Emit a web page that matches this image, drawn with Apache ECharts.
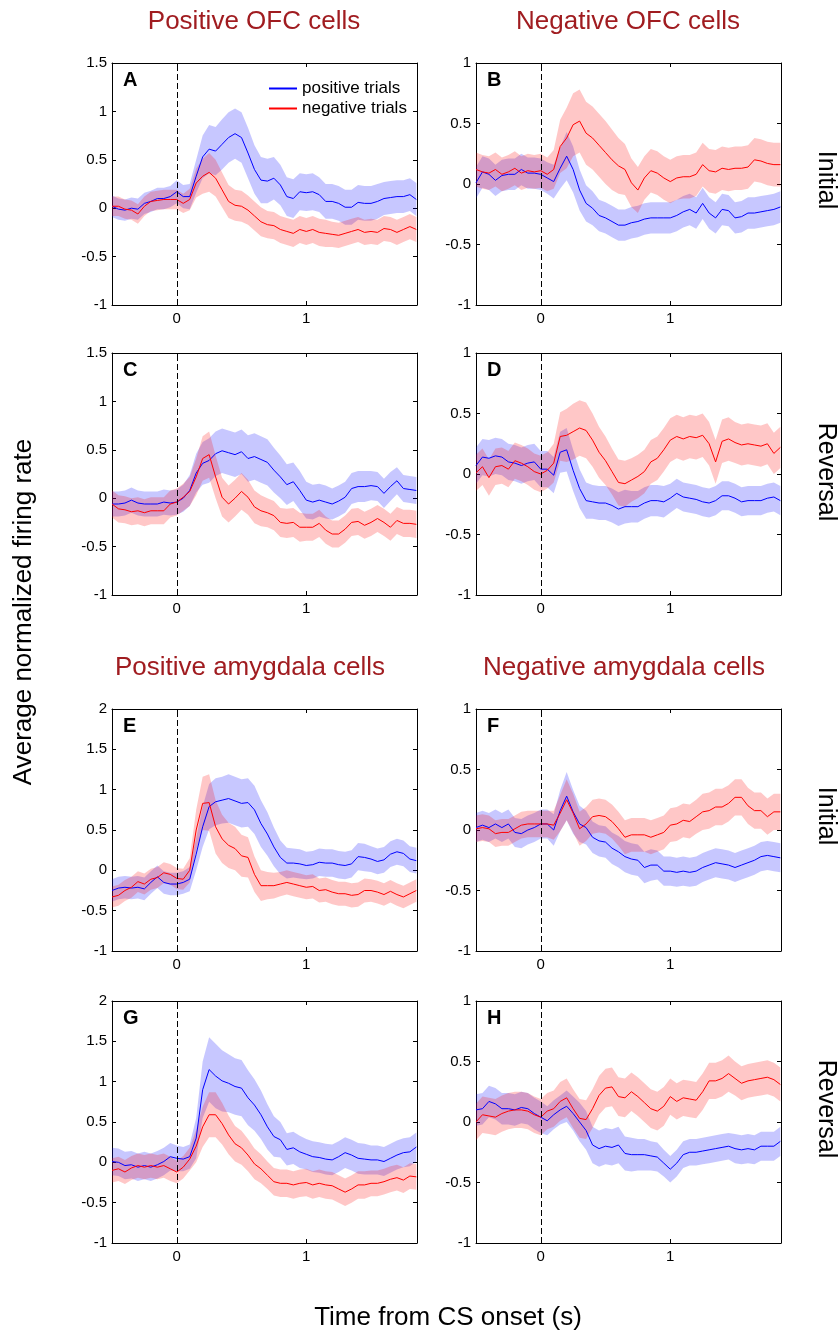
<!DOCTYPE html>
<html>
<head>
<meta charset="utf-8">
<script src="https://cdn.jsdelivr.net/npm/echarts@6/dist/echarts.min.js"></script>
<style>
html,body{margin:0;padding:0;background:#fff;}
#chart{width:840px;height:1337px;}
</style>
</head>
<body>
<div id="chart"></div>
<script>
// ---- time axis (s from CS onset) ----
const t = [-0.5,-0.45,-0.4,-0.35,-0.3,-0.25,-0.2,-0.15,-0.1,-0.05,0,0.05,0.1,0.15,0.2,0.25,0.3,0.35,0.4,0.45,0.5,0.55,0.6,0.65,0.7,0.75,0.8,0.85,0.9,0.95,1,1.05,1.1,1.15,1.2,1.25,1.3,1.35,1.4,1.45,1.5,1.55,1.6,1.65,1.7,1.75,1.8,1.85];
const xTicks = [0, 1];

// ---- A: Positive OFC cells, Initial ----
const A_pos = [0.02,-0.01,-0.02,0.0,-0.01,0.05,0.07,0.10,0.10,0.12, 0.17,0.12,0.12,0.33,0.53,0.61,0.59,0.66,0.73,0.77, 0.73,0.57,0.40,0.29,0.28,0.31,0.24,0.12,0.10,0.17, 0.16,0.17,0.14,0.07,0.07,0.05,0.01,0.01,0.06,0.05, 0.05,0.07,0.10,0.11,0.12,0.12,0.14,0.09];
const A_pos_sem = [0.11,0.11,0.11,0.11,0.11,0.11,0.11,0.11,0.11,0.11, 0.12,0.12,0.13,0.17,0.22,0.25,0.25,0.26,0.26,0.26, 0.26,0.26,0.25,0.24,0.23,0.22,0.21,0.2,0.2,0.19, 0.19,0.19,0.18,0.18,0.18,0.18,0.18,0.18,0.18,0.18, 0.18,0.18,0.17,0.17,0.17,0.17,0.17,0.17];
const A_neg = [0.02,0.02,-0.01,-0.02,-0.06,0.02,0.07,0.08,0.09,0.09, 0.09,0.05,0.09,0.26,0.33,0.37,0.31,0.19,0.07,0.03, 0.02,-0.02,-0.08,-0.14,-0.17,-0.18,-0.22,-0.24,-0.26,-0.22, -0.24,-0.22,-0.25,-0.26,-0.27,-0.28,-0.26,-0.24,-0.22,-0.25, -0.24,-0.25,-0.21,-0.22,-0.25,-0.22,-0.19,-0.22];
const A_neg_sem = [0.1,0.1,0.1,0.1,0.1,0.1,0.1,0.1,0.1,0.1, 0.1,0.1,0.11,0.15,0.18,0.2,0.19,0.18,0.17,0.16, 0.16,0.15,0.15,0.15,0.14,0.14,0.14,0.14,0.14,0.14, 0.14,0.14,0.14,0.14,0.13,0.13,0.13,0.13,0.13,0.13, 0.13,0.13,0.13,0.13,0.13,0.13,0.13,0.13];

// ---- B: Negative OFC cells, Initial ----
const B_pos = [0.01,0.10,0.08,0.03,0.07,0.08,0.08,0.12,0.09,0.09, 0.08,0.05,0.02,0.13,0.23,0.12,-0.05,-0.16,-0.20,-0.26, -0.28,-0.31,-0.34,-0.34,-0.32,-0.31,-0.29,-0.28,-0.28,-0.28, -0.28,-0.26,-0.23,-0.21,-0.24,-0.16,-0.24,-0.28,-0.21,-0.22, -0.28,-0.27,-0.24,-0.24,-0.23,-0.22,-0.21,-0.19];
const B_pos_sem = [0.13,0.13,0.13,0.13,0.13,0.13,0.13,0.13,0.13,0.13, 0.13,0.13,0.14,0.17,0.2,0.19,0.17,0.15,0.14,0.13, 0.13,0.13,0.13,0.13,0.13,0.13,0.13,0.13,0.13,0.13, 0.13,0.13,0.13,0.13,0.13,0.13,0.13,0.13,0.13,0.13, 0.13,0.13,0.13,0.13,0.13,0.13,0.13,0.13];
const B_neg = [0.12,0.10,0.09,0.12,0.08,0.10,0.13,0.09,0.11,0.10, 0.11,0.08,0.12,0.31,0.38,0.49,0.52,0.42,0.38,0.32, 0.26,0.20,0.15,0.12,0.01,-0.05,0.05,0.11,0.09,0.05, 0.02,0.05,0.06,0.06,0.08,0.16,0.11,0.10,0.13,0.12, 0.13,0.13,0.14,0.20,0.19,0.17,0.16,0.16];
const B_neg_sem = [0.14,0.14,0.14,0.14,0.14,0.14,0.14,0.14,0.14,0.14, 0.14,0.14,0.16,0.22,0.25,0.26,0.26,0.26,0.26,0.26, 0.26,0.25,0.23,0.21,0.2,0.19,0.18,0.18,0.18,0.18, 0.18,0.18,0.18,0.18,0.18,0.18,0.18,0.18,0.18,0.18, 0.18,0.18,0.18,0.18,0.18,0.18,0.18,0.18];

// ---- C: Positive OFC cells, Reversal ----
const C_pos = [-0.06,-0.06,-0.05,-0.02,-0.05,-0.06,-0.06,-0.06,-0.04,-0.05, -0.04,0.0,0.08,0.26,0.36,0.39,0.46,0.49,0.47,0.45, 0.48,0.41,0.43,0.40,0.37,0.29,0.22,0.14,0.17,0.08, -0.02,-0.04,-0.02,-0.04,-0.06,-0.03,0.01,0.10,0.12,0.12, 0.13,0.12,0.05,0.12,0.18,0.10,0.09,0.08];
const C_pos_sem = [0.13,0.13,0.13,0.13,0.13,0.13,0.13,0.13,0.13,0.13, 0.13,0.14,0.16,0.2,0.22,0.23,0.23,0.23,0.23,0.23, 0.23,0.24,0.24,0.24,0.24,0.23,0.22,0.21,0.2,0.2, 0.19,0.18,0.17,0.17,0.16,0.16,0.16,0.16,0.16,0.16, 0.15,0.15,0.15,0.15,0.14,0.14,0.14,0.14];
const C_neg = [-0.06,-0.11,-0.12,-0.14,-0.13,-0.15,-0.13,-0.13,-0.13,-0.06, -0.04,0.01,0.07,0.22,0.41,0.45,0.22,0.01,-0.06,0.0, 0.07,0.01,-0.09,-0.13,-0.15,-0.18,-0.25,-0.26,-0.25,-0.30, -0.30,-0.30,-0.26,-0.33,-0.37,-0.37,-0.32,-0.25,-0.24,-0.28, -0.25,-0.21,-0.25,-0.30,-0.23,-0.26,-0.26,-0.27];
const C_neg_sem = [0.14,0.14,0.14,0.14,0.14,0.14,0.14,0.14,0.14,0.14, 0.14,0.14,0.15,0.19,0.23,0.24,0.22,0.2,0.19,0.19, 0.19,0.18,0.17,0.16,0.15,0.15,0.15,0.15,0.15,0.15, 0.14,0.14,0.14,0.14,0.14,0.14,0.14,0.14,0.14,0.14, 0.14,0.14,0.14,0.14,0.14,0.14,0.14,0.14];

// ---- D: Negative OFC cells, Reversal ----
const D_pos = [0.07,0.14,0.13,0.15,0.14,0.10,0.09,0.07,0.09,0.10, 0.04,0.04,-0.01,0.18,0.20,0.03,-0.12,-0.22,-0.23,-0.24, -0.24,-0.26,-0.29,-0.27,-0.27,-0.27,-0.24,-0.22,-0.22,-0.23, -0.20,-0.16,-0.19,-0.20,-0.21,-0.23,-0.24,-0.22,-0.18,-0.18, -0.20,-0.23,-0.22,-0.22,-0.22,-0.20,-0.19,-0.22];
const D_pos_sem = [0.15,0.15,0.15,0.15,0.15,0.15,0.15,0.15,0.15,0.15, 0.15,0.15,0.15,0.17,0.18,0.17,0.16,0.15,0.14,0.14, 0.14,0.14,0.14,0.14,0.13,0.13,0.13,0.13,0.13,0.13, 0.12,0.12,0.12,0.12,0.12,0.12,0.12,0.12,0.12,0.12, 0.12,0.12,0.12,0.12,0.12,0.12,0.12,0.12];
const D_neg = [0.01,0.06,-0.03,0.06,0.07,0.04,0.11,0.09,0.06,0.02, 0.00,0.03,0.09,0.31,0.32,0.35,0.38,0.36,0.28,0.18, 0.11,0.02,-0.07,-0.08,-0.05,-0.02,0.02,0.10,0.13,0.20, 0.28,0.31,0.29,0.31,0.30,0.32,0.25,0.10,0.27,0.29, 0.26,0.24,0.25,0.24,0.23,0.25,0.17,0.22];
const D_neg_sem = [0.15,0.15,0.15,0.15,0.15,0.15,0.15,0.15,0.15,0.15, 0.15,0.15,0.16,0.2,0.22,0.23,0.23,0.23,0.22,0.21, 0.2,0.19,0.19,0.19,0.18,0.18,0.18,0.18,0.18,0.18, 0.18,0.18,0.18,0.18,0.18,0.18,0.18,0.18,0.18,0.18, 0.17,0.17,0.17,0.17,0.17,0.17,0.17,0.17];

// ---- E: Positive amygdala cells, Initial ----
const E_pos = [-0.25,-0.22,-0.21,-0.22,-0.21,-0.23,-0.15,-0.08,-0.15,-0.17, -0.17,-0.15,-0.11,0.20,0.54,0.79,0.85,0.87,0.89,0.86, 0.83,0.84,0.75,0.58,0.45,0.29,0.16,0.09,0.09,0.08, 0.06,0.07,0.10,0.09,0.09,0.07,0.06,0.08,0.17,0.16, 0.14,0.11,0.13,0.20,0.23,0.21,0.14,0.12];
const E_pos_sem = [0.14,0.14,0.14,0.14,0.14,0.14,0.14,0.14,0.14,0.14, 0.14,0.14,0.15,0.2,0.25,0.28,0.29,0.29,0.3,0.3, 0.3,0.3,0.3,0.29,0.27,0.24,0.21,0.19,0.18,0.18, 0.17,0.17,0.17,0.17,0.17,0.17,0.17,0.17,0.17,0.17, 0.16,0.16,0.16,0.16,0.16,0.16,0.16,0.16];
const E_neg = [-0.33,-0.31,-0.25,-0.21,-0.14,-0.17,-0.11,-0.09,-0.03,-0.05, -0.10,-0.11,0.0,0.50,0.83,0.84,0.54,0.39,0.31,0.27, 0.18,0.16,-0.05,-0.19,-0.19,-0.19,-0.17,-0.15,-0.17,-0.19, -0.21,-0.20,-0.25,-0.24,-0.27,-0.29,-0.29,-0.31,-0.30,-0.25, -0.25,-0.27,-0.30,-0.26,-0.30,-0.33,-0.29,-0.25];
const E_neg_sem = [0.13,0.13,0.13,0.13,0.13,0.13,0.13,0.13,0.13,0.13, 0.13,0.13,0.15,0.25,0.33,0.35,0.33,0.3,0.28,0.27, 0.26,0.25,0.22,0.19,0.17,0.16,0.15,0.15,0.15,0.15, 0.15,0.15,0.15,0.15,0.15,0.15,0.15,0.15,0.15,0.15, 0.14,0.14,0.14,0.14,0.14,0.14,0.14,0.14];

// ---- F: Negative amygdala cells, Initial ----
const F_pos = [0.02,0.04,0.02,0.05,0.02,0.05,-0.02,-0.03,0.0,0.02, 0.05,0.05,0.0,0.16,0.28,0.15,0.05,0.02,-0.06,-0.09, -0.10,-0.15,-0.18,-0.22,-0.24,-0.25,-0.31,-0.29,-0.29,-0.34, -0.34,-0.35,-0.34,-0.35,-0.34,-0.31,-0.29,-0.27,-0.28,-0.29, -0.31,-0.29,-0.27,-0.25,-0.22,-0.21,-0.22,-0.23];
const F_pos_sem = [0.12,0.12,0.12,0.12,0.12,0.12,0.12,0.12,0.12,0.12, 0.12,0.12,0.13,0.17,0.2,0.18,0.15,0.14,0.13,0.13, 0.13,0.13,0.13,0.13,0.13,0.13,0.13,0.13,0.12,0.12, 0.12,0.12,0.12,0.12,0.12,0.12,0.12,0.12,0.12,0.12, 0.12,0.12,0.12,0.12,0.12,0.12,0.12,0.12];
const F_neg = [0.01,0.02,0.01,-0.03,-0.02,-0.02,0.01,0.04,0.05,0.05, 0.05,0.05,0.04,0.14,0.25,0.14,0.01,0.05,0.11,0.12, 0.11,0.07,0.01,-0.06,-0.04,-0.04,-0.04,-0.06,-0.04,-0.02, 0.04,0.05,0.08,0.07,0.11,0.15,0.16,0.19,0.19,0.22, 0.27,0.27,0.20,0.16,0.16,0.11,0.15,0.15];
const F_neg_sem = [0.11,0.11,0.11,0.11,0.11,0.11,0.11,0.11,0.11,0.11, 0.11,0.11,0.12,0.15,0.17,0.16,0.14,0.14,0.14,0.14, 0.14,0.14,0.14,0.14,0.14,0.14,0.14,0.14,0.14,0.14, 0.14,0.14,0.14,0.14,0.14,0.15,0.15,0.15,0.15,0.15, 0.15,0.15,0.15,0.15,0.15,0.15,0.15,0.15];

// ---- G: Positive amygdala cells, Reversal ----
const G_pos = [0.01,0.0,-0.04,-0.03,-0.06,-0.04,-0.06,-0.03,0.01,0.07, 0.05,0.04,0.07,0.30,0.90,1.15,1.07,1.01,0.98,0.94, 0.92,0.80,0.71,0.59,0.44,0.32,0.28,0.16,0.18,0.13, 0.10,0.07,0.06,0.04,0.03,0.07,0.12,0.09,0.05,0.04, 0.03,0.03,0.01,0.05,0.09,0.12,0.13,0.19];
const G_pos_sem = [0.17,0.17,0.17,0.17,0.17,0.17,0.17,0.17,0.17,0.17, 0.16,0.15,0.15,0.25,0.35,0.4,0.4,0.38,0.36,0.35, 0.35,0.34,0.32,0.3,0.28,0.25,0.22,0.2,0.2,0.2, 0.19,0.19,0.19,0.19,0.19,0.19,0.19,0.19,0.19,0.19, 0.18,0.18,0.18,0.18,0.18,0.18,0.18,0.18];
const G_neg = [-0.10,-0.08,-0.12,-0.07,-0.04,-0.06,-0.04,-0.06,-0.04,-0.08, -0.12,-0.06,0.04,0.20,0.44,0.59,0.59,0.48,0.34,0.23, 0.18,0.09,-0.02,-0.08,-0.16,-0.24,-0.26,-0.26,-0.28,-0.26, -0.25,-0.28,-0.26,-0.28,-0.29,-0.33,-0.37,-0.33,-0.28,-0.28, -0.26,-0.26,-0.24,-0.21,-0.19,-0.22,-0.17,-0.18];
const G_neg_sem = [0.15,0.15,0.15,0.15,0.15,0.15,0.15,0.15,0.15,0.15, 0.14,0.14,0.14,0.2,0.25,0.28,0.28,0.26,0.24,0.22, 0.21,0.2,0.19,0.18,0.17,0.17,0.17,0.17,0.17,0.17, 0.17,0.17,0.17,0.17,0.17,0.17,0.17,0.17,0.17,0.17, 0.16,0.16,0.16,0.16,0.16,0.16,0.16,0.16];

// ---- H: Negative amygdala cells, Reversal ----
const H_pos = [0.10,0.11,0.17,0.15,0.11,0.11,0.10,0.12,0.11,0.07, 0.04,0.01,0.06,0.10,0.13,0.07,0.0,-0.07,-0.19,-0.22, -0.20,-0.21,-0.19,-0.26,-0.27,-0.27,-0.27,-0.28,-0.29,-0.34, -0.39,-0.34,-0.27,-0.25,-0.25,-0.24,-0.23,-0.22,-0.21,-0.20, -0.22,-0.23,-0.22,-0.23,-0.20,-0.20,-0.20,-0.16];
const H_pos_sem = [0.13,0.13,0.13,0.13,0.13,0.13,0.13,0.13,0.13,0.13, 0.13,0.12,0.12,0.12,0.13,0.14,0.16,0.16,0.15,0.15, 0.15,0.15,0.15,0.14,0.14,0.13,0.13,0.12,0.12,0.11, 0.11,0.11,0.11,0.11,0.11,0.11,0.11,0.11,0.11,0.11, 0.12,0.12,0.12,0.12,0.12,0.12,0.12,0.12];
const H_neg = [0.00,0.06,0.05,0.04,0.07,0.09,0.10,0.10,0.09,0.06, 0.04,0.09,0.11,0.17,0.20,0.11,0.03,0.02,0.11,0.22, 0.28,0.29,0.21,0.20,0.25,0.21,0.16,0.11,0.09,0.13, 0.21,0.17,0.20,0.19,0.18,0.25,0.34,0.34,0.36,0.40, 0.36,0.32,0.34,0.35,0.36,0.37,0.35,0.31];
const H_neg_sem = [0.15,0.15,0.15,0.15,0.15,0.15,0.15,0.15,0.15,0.15, 0.15,0.15,0.15,0.16,0.16,0.16,0.16,0.16,0.16,0.16, 0.16,0.16,0.16,0.16,0.16,0.16,0.16,0.16,0.16,0.16, 0.15,0.15,0.15,0.15,0.15,0.15,0.15,0.15,0.15,0.15, 0.14,0.14,0.14,0.14,0.14,0.14,0.14,0.14];

// ---- texts ----
const columnTitlesTop = ['Positive OFC cells', 'Negative OFC cells'];
const columnTitlesBottom = ['Positive amygdala cells', 'Negative amygdala cells'];
const rowLabels = ['Initial', 'Reversal', 'Initial', 'Reversal'];
const legendNames = ['positive trials', 'negative trials'];
const yTitle = 'Average normalized firing rate';
const xTitle = 'Time from CS onset (s)';

const panels = [
  {id:'A', row:0, col:0, ymin:-1, ymax:1.5, pos:A_pos, posSem:A_pos_sem, neg:A_neg, negSem:A_neg_sem},
  {id:'B', row:0, col:1, ymin:-1, ymax:1,   pos:B_pos, posSem:B_pos_sem, neg:B_neg, negSem:B_neg_sem},
  {id:'C', row:1, col:0, ymin:-1, ymax:1.5, pos:C_pos, posSem:C_pos_sem, neg:C_neg, negSem:C_neg_sem},
  {id:'D', row:1, col:1, ymin:-1, ymax:1,   pos:D_pos, posSem:D_pos_sem, neg:D_neg, negSem:D_neg_sem},
  {id:'E', row:2, col:0, ymin:-1, ymax:2,   pos:E_pos, posSem:E_pos_sem, neg:E_neg, negSem:E_neg_sem},
  {id:'F', row:2, col:1, ymin:-1, ymax:1,   pos:F_pos, posSem:F_pos_sem, neg:F_neg, negSem:F_neg_sem},
  {id:'G', row:3, col:0, ymin:-1, ymax:2,   pos:G_pos, posSem:G_pos_sem, neg:G_neg, negSem:G_neg_sem},
  {id:'H', row:3, col:1, ymin:-1, ymax:1,   pos:H_pos, posSem:H_pos_sem, neg:H_neg, negSem:H_neg_sem}
];

// ---- layout & style ----
const FONT = "'Liberation Sans', Arial, Helvetica, sans-serif";
const XMIN = -0.5, XMAX = 1.855;
const colLeft = [112, 476];
const rowTop = [63, 353, 709, 1001];
const GW = 305, GH = 242;
const rowLabelY = [180, 472, 816, 1109];
const BLUE = '#0000ff', RED = '#ff0000';
const BLUE_BAND = 'rgba(0,0,255,0.22)', RED_BAND = 'rgba(255,0,0,0.22)';
const TITLE_RED = '#a01c20';

const grids = [], xAxes = [], yAxes = [], series = [], graphics = [];

function bandSeries(gi, mean, sem, color) {
  return {
    type: 'custom', xAxisIndex: gi * 2, yAxisIndex: gi * 2, silent: true, clip: true, z: 1,
    data: t.map((x, i) => [x, mean[i] - sem[i], mean[i] + sem[i]]),
    encode: { x: 0, y: [1, 2] },
    renderItem: function (params, api) {
      if (params.dataIndex !== 0) return null;
      const pts = [];
      for (let i = 0; i < t.length; i++) pts.push(api.coord([t[i], mean[i] + sem[i]]));
      for (let i = t.length - 1; i >= 0; i--) pts.push(api.coord([t[i], mean[i] - sem[i]]));
      return { type: 'polygon', shape: { points: pts }, style: { fill: color, stroke: null } };
    }
  };
}

panels.forEach((p, gi) => {
  const left = colLeft[p.col], top = rowTop[p.row];
  grids.push({ left: left, top: top, width: GW, height: GH, containLabel: false });
  const xBase = {
    type: 'value', gridIndex: gi, min: XMIN, max: XMAX,
    axisLine: { show: true, onZero: false, lineStyle: { color: '#000', width: 1 } },
    axisTick: { show: true, inside: true, length: 4, customValues: xTicks, lineStyle: { color: '#000' } },
    splitLine: { show: false }
  };
  xAxes.push(Object.assign({}, xBase, { position: 'bottom',
    axisLabel: { show: true, customValues: xTicks, margin: 6, color: '#000', fontSize: 15, fontFamily: FONT } }));
  xAxes.push(Object.assign({}, xBase, { position: 'top', axisLabel: { show: false } }));
  const yBase = {
    type: 'value', gridIndex: gi, min: p.ymin, max: p.ymax, interval: 0.5,
    axisLine: { show: true, onZero: false, lineStyle: { color: '#000', width: 1 } },
    axisTick: { show: true, inside: true, length: 4, lineStyle: { color: '#000' } },
    splitLine: { show: false }
  };
  yAxes.push(Object.assign({}, yBase, { position: 'left',
    axisLabel: { show: true, margin: 5, color: '#000', fontSize: 15, fontFamily: FONT } }));
  yAxes.push(Object.assign({}, yBase, { position: 'right', axisLabel: { show: false } }));

  series.push(bandSeries(gi, p.pos, p.posSem, BLUE_BAND));
  series.push(bandSeries(gi, p.neg, p.negSem, RED_BAND));
  series.push({
    name: gi === 0 ? legendNames[0] : p.id + ' positive', type: 'line',
    xAxisIndex: gi * 2, yAxisIndex: gi * 2, showSymbol: false, symbol: 'none', z: 3,
    lineStyle: { color: BLUE, width: 1 }, itemStyle: { color: BLUE },
    data: t.map((x, i) => [x, p.pos[i]]),
    markLine: { silent: true, symbol: ['none', 'none'], label: { show: false },
      lineStyle: { color: '#000', type: [6, 3], width: 1 }, data: [{ xAxis: 0 }] }
  });
  series.push({
    name: gi === 0 ? legendNames[1] : p.id + ' negative', type: 'line',
    xAxisIndex: gi * 2, yAxisIndex: gi * 2, showSymbol: false, symbol: 'none', z: 3,
    lineStyle: { color: RED, width: 1 }, itemStyle: { color: RED },
    data: t.map((x, i) => [x, p.neg[i]])
  });

  graphics.push({ type: 'text', x: left + 11, y: top + 17, z: 10,
    style: { text: p.id, font: 'bold 20px ' + FONT, fill: '#000', align: 'left', verticalAlign: 'middle', textAlign: 'left', textVerticalAlign: 'middle' } });
});

function centeredText(s, x, y, font, fill, rotation) {
  return { type: 'text', x: x, y: y, rotation: rotation || 0,
    style: { text: s, font: font, fill: fill, align: 'center', verticalAlign: 'middle', textAlign: 'center', textVerticalAlign: 'middle' } };
}
const topTitleCx = [254, 628], bottomTitleCx = [250, 624];
columnTitlesTop.forEach((s, c) => graphics.push(centeredText(s, topTitleCx[c], 22, '26px ' + FONT, TITLE_RED)));
columnTitlesBottom.forEach((s, c) => graphics.push(centeredText(s, bottomTitleCx[c], 668, '26px ' + FONT, TITLE_RED)));
rowLabels.forEach((s, r) => graphics.push(centeredText(s, 826, rowLabelY[r], '25px ' + FONT, '#000', -Math.PI / 2)));
graphics.push(centeredText(yTitle, 24, 612, '26px ' + FONT, '#000', Math.PI / 2));
graphics.push(centeredText(xTitle, 448, 1318, '26px ' + FONT, '#000'));

const chart = echarts.init(document.getElementById('chart'), null, { renderer: 'canvas' });
chart.setOption({
  animation: false,
  backgroundColor: '#fff',
  grid: grids,
  xAxis: xAxes,
  yAxis: yAxes,
  legend: {
    data: legendNames, orient: 'vertical', left: 264, top: 75, padding: 5, itemWidth: 28, itemHeight: 2,
    icon: 'rect', itemGap: 3, selectedMode: false,
    textStyle: { fontSize: 17, color: '#000', fontFamily: FONT, lineHeight: 17 }
  },
  series: series,
  graphic: graphics
});
</script>
</body>
</html>
